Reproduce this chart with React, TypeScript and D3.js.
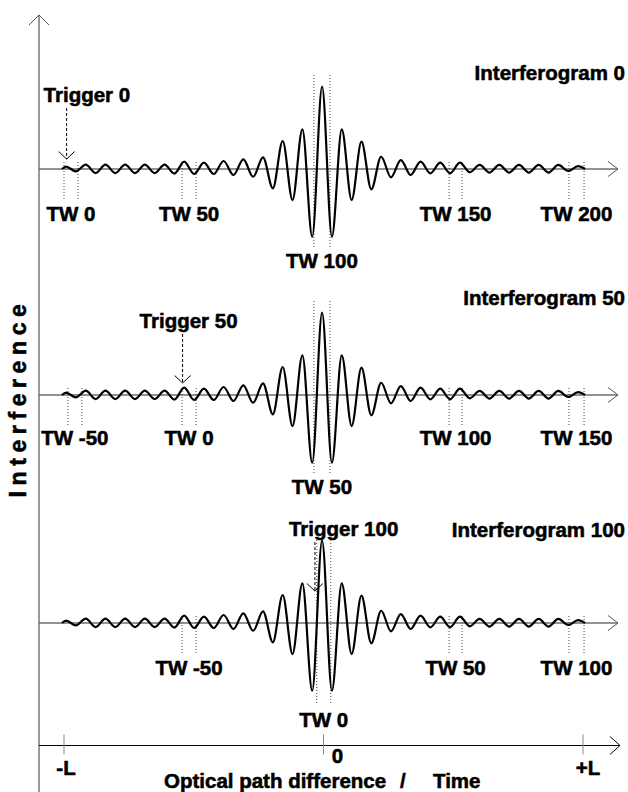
import React from "react";
import * as d3 from "d3";

// ---------- DATA ----------
// Extremum amplitudes of the interferogram (alternating peaks / troughs), normalised to the central peak
const EXTREMA: number[] = [
  0.03, -0.03, 0.052, -0.049, 0.052, -0.049, 0.052, -0.049, 0.052, -0.049, 0.052, -0.055, 0.089,
  -0.061, 0.077, -0.061, 0.097, -0.073, 0.118, -0.094, 0.142, -0.235, 0.34, -0.377, 0.482, -0.823,
  1.0,
  -0.823, 0.482, -0.377, 0.332, -0.247, 0.149, -0.101, 0.109, -0.073, 0.089, -0.052, 0.077, -0.052,
  0.077, -0.04, 0.049, -0.043, 0.049, -0.043, 0.049, -0.043, 0.049, -0.043, 0.049, -0.024, 0.036,
];
// OPD positions (-L = -1, +L = 1) of first / last extremum and of the wave ends
const EXTREMA_SPAN: [number, number] = [-0.992, 0.981];
const WAVE_ENDS: [number, number] = [-1.008, 1.008];

const PANEL_TITLES = ["Interferogram 0", "Interferogram 50", "Interferogram 100"];
const TRIGGER_LABELS = ["Trigger 0", "Trigger 50", "Trigger 100"];
const TRIGGER_POS = [-0.99, -0.543, -0.033];
const TW_LABELS: string[][] = [
  ["TW 0", "TW 50", "TW 100", "TW 150", "TW 200"],
  ["TW -50", "TW 0", "TW 50", "TW 100", "TW 150"],
  ["TW -50", "TW 0", "TW 50", "TW 100"],
];
const TW_START: number[][] = [
  [-1.0, -0.545, -0.037, 0.484, 0.946],
  [-0.985, -0.545, -0.037, 0.484, 0.946],
  [-0.545, -0.026, 0.484, 0.946],
];
const TW_END: number[][] = [
  [-0.946, -0.491, 0.025, 0.534, 1.004],
  [-0.931, -0.491, 0.025, 0.534, 1.004],
  [-0.491, 0.028, 0.534, 1.004],
];
// index of the central (zero path difference) window per panel
const TW_CENTER = [2, 2, 1];

const AXIS_TICKS = [-1, 0, 1];
const AXIS_TICK_LABELS = ["-L", "0", "+L"];

// ---------- LAYOUT ----------
const W = 628;
const H = 792;
const BASELINES = [169, 395, 623];
const AMP = 82.3;
const AXIS_Y = 745.5;
const YAXIS_X = 39;
const FONT = "'Liberation Sans', Arial, Helvetica, sans-serif";
const FS = 20.5;

const TRIGGER_TIP_DY = [-10, -12, -32];
const TRIGGER_TEXT_DY = [-67, -67, -87];
const TRIGGER_TEXT_DX = [-23, -43, -26];
const TITLE_DY = [-89, -90, -86];
const SIDE_LABEL_DY = [52, 50, 52];
const CENTER_LABEL_DY = [99, 99, 104];
const CENTER_TOP_DY = [-94, -94, -83];
const CENTER_BOT_DY = [78, 78, 80];

const xScale = d3.scaleLinear().domain([-1, 1]).range([64, 583]);
const idxScale = d3
  .scalePoint<number>()
  .domain(d3.range(EXTREMA.length))
  .range([xScale(EXTREMA_SPAN[0]), xScale(EXTREMA_SPAN[1])]);

function wavePath(base: number): string {
  const y = d3.scaleLinear().domain([-1, 1]).range([base + AMP, base - AMP]);
  const pts: [number, number][] = [[xScale(WAVE_ENDS[0]), y(0)]];
  EXTREMA.forEach((v, i) => pts.push([idxScale(i) as number, y(v)]));
  pts.push([xScale(WAVE_ENDS[1]), y(0)]);
  return d3.line().curve(d3.curveMonotoneX)(pts) || "";
}

export default function App() {
  const textStyle: React.CSSProperties = {
    fontFamily: FONT,
    fontWeight: 700,
    fontSize: FS,
    stroke: "#000",
    strokeWidth: 0.55,
  };
  return (
    <svg
      width={W}
      height={H}
      viewBox={`0 0 ${W} ${H}`}
      style={{ position: "absolute", left: 0, top: 0, background: "#fff" }}
    >
      <rect x={0} y={0} width={W} height={H} fill="#fff" />
      {/* Y axis */}
      <line x1={YAXIS_X} y1={15} x2={YAXIS_X} y2={H} stroke="#777" strokeWidth={1.5} />
      <path
        d={`M${YAXIS_X - 10},25 L${YAXIS_X},15 L${YAXIS_X + 10},25`}
        fill="none"
        stroke="#555"
        strokeWidth={1}
      />
      <text
        transform={`translate(26, 398) rotate(-90)`}
        textAnchor="middle"
        style={{ ...textStyle, fontSize: 23, letterSpacing: "5.6px" }}
      >
        Interference
      </text>

      {BASELINES.map((base, p) => {
        const center = TW_CENTER[p];
        const tipX = xScale(TRIGGER_POS[p]);
        const tipY = base + TRIGGER_TIP_DY[p];
        const tY = base + TRIGGER_TEXT_DY[p];
        return (
          <g key={p}>
            {/* baseline */}
            <line x1={YAXIS_X} y1={base} x2={618} y2={base} stroke="#6e6e6e" strokeWidth={1.5} />
            <path
              d={`M608,${base - 7.5} L618,${base} L608,${base + 7.5}`}
              fill="none"
              stroke="#555"
              strokeWidth={1}
            />
            {/* time windows */}
            {TW_START[p].map((s, i) => {
              const isC = i === center;
              const top = base + (isC ? CENTER_TOP_DY[p] : -7);
              const bot = base + (isC ? CENTER_BOT_DY[p] : 31);
              const x1 = xScale(s);
              const x2 = xScale(TW_END[p][i]);
              return (
                <g key={i}>
                  <line x1={x1} y1={top} x2={x1} y2={bot} stroke="#444" strokeWidth={1} strokeDasharray="1,2" />
                  <line x1={x2} y1={top} x2={x2} y2={bot} stroke="#444" strokeWidth={1} strokeDasharray="1,2" />
                  <text
                    x={(x1 + x2) / 2}
                    y={base + (isC ? CENTER_LABEL_DY[p] : SIDE_LABEL_DY[p])}
                    textAnchor="middle"
                    style={textStyle}
                  >
                    {TW_LABELS[p][i]}
                  </text>
                </g>
              );
            })}
            {/* waveform */}
            <path d={wavePath(base)} fill="none" stroke="#000" strokeWidth={2.2} strokeLinejoin="round" />
            {/* trigger */}
            <line x1={tipX} y1={tY + 6} x2={tipX} y2={tipY} stroke="#000" strokeWidth={1} strokeDasharray="3,2" />
            <path
              d={`M${tipX - 8},${tipY - 7.5} L${tipX},${tipY} L${tipX + 8},${tipY - 7.5}`}
              fill="none"
              stroke="#000"
              strokeWidth={1}
            />
            <text x={tipX + TRIGGER_TEXT_DX[p]} y={tY} style={textStyle}>
              {TRIGGER_LABELS[p]}
            </text>
            {/* title */}
            <text x={625} y={base + TITLE_DY[p]} textAnchor="end" style={textStyle}>
              {PANEL_TITLES[p]}
            </text>
          </g>
        );
      })}

      {/* bottom axis */}
      <line x1={YAXIS_X} y1={AXIS_Y} x2={620} y2={AXIS_Y} stroke="#000" strokeWidth={1} />
      <path
        d={`M610,${AXIS_Y - 9} L620,${AXIS_Y} L610,${AXIS_Y + 9}`}
        fill="none"
        stroke="#000"
        strokeWidth={1}
      />
      {AXIS_TICKS.map((t, i) => (
        <g key={i}>
          <line x1={xScale(t)} y1={AXIS_Y - 11} x2={xScale(t)} y2={AXIS_Y + 9} stroke="#888" strokeWidth={1} />
          <text
            x={xScale(t) + (i === 1 ? 14 : i === 0 ? 2 : 5)}
            y={i === 1 ? 763 : 775}
            textAnchor="middle"
            style={textStyle}
          >
            {AXIS_TICK_LABELS[i]}
          </text>
        </g>
      ))}
      <text x={164} y={788} style={textStyle}>
        Optical path difference
      </text>
      <text x={400} y={788} style={textStyle}>
        /
      </text>
      <text x={433} y={788} style={textStyle}>
        Time
      </text>
    </svg>
  );
}
